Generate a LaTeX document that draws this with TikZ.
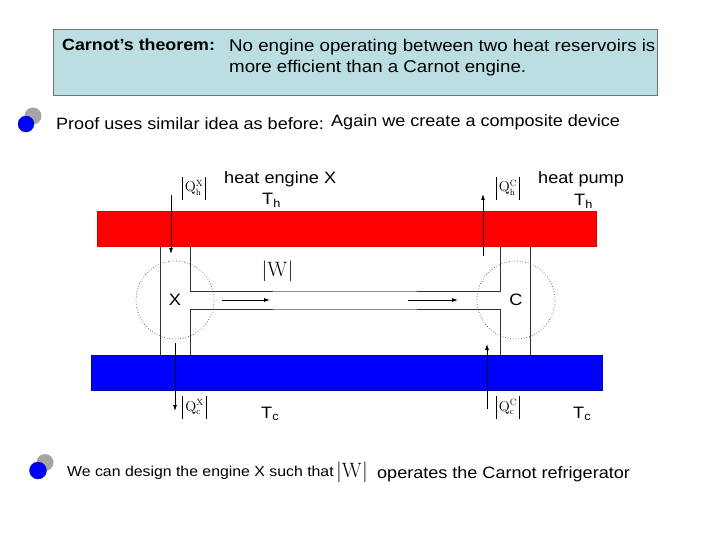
\documentclass[tikz,border=0pt]{standalone}
\usepackage[no-math]{fontspec}
\setmainfont{Liberation Sans}[FakeStretch=1.1]
\usetikzlibrary{arrows.meta}
\definecolor{boxcyan}{RGB}{186,222,226}
\definecolor{hotred}{RGB}{255,0,0}
\definecolor{coldblue}{RGB}{0,0,255}
\definecolor{bulletgray}{RGB}{165,165,165}
\newcommand\absbar{\rule[-8pt]{0.6pt}{23pt}}
\begin{document}
\begin{tikzpicture}[x=1pt,y=-1pt,
  txt/.style={inner sep=0pt,anchor=base west,font=\fontsize{16.4}{20}\selectfont},
  small/.style={inner sep=0pt,anchor=base west,font=\fontsize{14.4}{16}\selectfont},
  qlab/.style={inner sep=0pt,font=\fontsize{13.5}{16}\selectfont},
  wlab/.style={inner sep=0pt,font=\fontsize{20}{23}\selectfont},
  wall/.style={draw=black!80,line width=0.8pt},
  flow/.style={draw=black,line width=0.8pt,-{Latex[length=6pt,width=4pt]}},
  engine/.style={circle,draw=black!70,dotted,line width=0.7pt,minimum size=78pt,inner sep=0pt,font=\fontsize{16.5}{19}\selectfont},
  reservoir/.style={inner sep=0pt,anchor=north west,line width=0.5pt}]
\useasboundingbox (0,0) rectangle (720,540);
\fill[white] (0,0) rectangle (720,540);
% theorem box
\node[reservoir,draw=black!55,fill=boxcyan,minimum width=604pt,minimum height=66pt] (thm) at (53,29) {};
\node[txt,font=\bfseries\fontsize{16.2}{20}\selectfont] (thmtitle) at (62,51) {Carnot’s theorem:};
\node[inner sep=0pt,align=left,anchor=north west,font=\fontsize{17}{21.5}\selectfont] (thmbody) at (229,38.5) {No engine operating between two heat reservoirs is\\more efficient than a Carnot engine.};
% bullet 1
\fill[bulletgray] (33,116) circle (8.5pt);
\node[circle,fill=coldblue,draw=coldblue!60!black,line width=0.3pt,minimum size=16pt,inner sep=0pt] (b1) at (26,124) {};
\node[txt] (proof) at (56,130) {Proof uses similar idea as before:};
\node[txt] (again) at (331,127) {Again we create a composite device};
% reservoirs
\node[reservoir,draw=red!85!black,fill=hotred,minimum width=499pt,minimum height=35pt] (hot) at (97,211) {};
\node[reservoir,draw=blue!70!black,fill=coldblue,minimum width=511pt,minimum height=35pt] (cold) at (91,355) {};
% titles
\node[txt,font=\fontsize{16.5}{19}\selectfont] (hex) at (224,184) {heat engine X};
\node[txt,font=\fontsize{16.5}{19}\selectfont] (hp) at (538,184) {heat pump};
\node[txt,font=\fontsize{16.5}{19}\selectfont] (th1) at (262,205) {T\textsubscript{h}};
\node[txt,font=\fontsize{16.5}{19}\selectfont] (th2) at (574,206) {T\textsubscript{h}};
\node[txt,font=\fontsize{16.5}{19}\selectfont] (tc1) at (261,418) {T\textsubscript{c}};
\node[txt,font=\fontsize{16.5}{19}\selectfont] (tc2) at (573,418) {T\textsubscript{c}};
% engines
\node[engine] (X) at (175,300) {X};
\node[engine] (C) at (516,300) {C};
% engine walls
\coordinate (xa1) at (160,246); \coordinate (xa2) at (160,355);
\coordinate (xb1) at (190,246); \coordinate (xb2) at (190,291.5);
\coordinate (xc1) at (190,355); \coordinate (xc2) at (190,309);
\coordinate (ca1) at (530,246); \coordinate (ca2) at (530,355);
\coordinate (cb1) at (500,246); \coordinate (cb2) at (500,291.5);
\coordinate (cc1) at (500,355); \coordinate (cc2) at (500,309);
\coordinate (m1) at (273,291.5); \coordinate (m2) at (417,291.5);
\coordinate (m3) at (273,309); \coordinate (m4) at (417,309);
\draw[wall] (xa1) -- (xa2);
\draw[wall] (ca1) -- (ca2);
\draw[wall] (xb1) -- (xb2) -- (m1);
\draw[wall] (xc1) -- (xc2) -- (m3);
\draw[wall] (cb1) -- (cb2) -- (m2);
\draw[wall] (cc1) -- (cc2) -- (m4);
\draw[wall,draw=black!45] (m1) -- (m2);
\draw[wall,draw=black!45] (m3) -- (m4);
% work
\node[wlab] (W) at (277.5,271) {$\big|\mathrm{W}\big|$};
\coordinate (w1s) at (222,300); \coordinate (w1e) at (270,300);
\coordinate (w2s) at (408,300); \coordinate (w2e) at (458,300);
\draw[flow] (w1s) -- (w1e);
\draw[flow] (w2s) -- (w2e);
% heat flows
\coordinate (qhx1) at (171,195); \coordinate (qhx2) at (171,254);
\coordinate (qcx1) at (175,343); \coordinate (qcx2) at (175,411);
\coordinate (qhc1) at (483,256); \coordinate (qhc2) at (483,194);
\coordinate (qcc1) at (487,409); \coordinate (qcc2) at (487,344);
\draw[flow] (qhx1) -- (qhx2);
\draw[flow] (qcx1) -- (qcx2);
\draw[flow] (qhc1) -- (qhc2);
\draw[flow] (qcc1) -- (qcc2);
\node[qlab] (lqhx) at (194,188.5) {\absbar\,$\mathrm{Q}_{\mathrm{h}}^{\mathrm{X}}$\,\absbar};
\node[qlab] (lqcx) at (194.5,407.5) {\absbar\,$\mathrm{Q}_{\mathrm{c}}^{\mathrm{X}}$\,\absbar};
\node[qlab] (lqhc) at (508,188.5) {\absbar\,$\mathrm{Q}_{\mathrm{h}}^{\mathrm{C}}$\,\absbar};
\node[qlab] (lqcc) at (508,407.5) {\absbar\,$\mathrm{Q}_{\mathrm{c}}^{\mathrm{C}}$\,\absbar};
% bullet 2
\fill[bulletgray] (45,462.5) circle (8.5pt);
\node[circle,fill=coldblue,draw=coldblue!60!black,line width=0.3pt,minimum size=17pt,inner sep=0pt] (b2) at (38,470.5) {};
\node[small] (design) at (67,476) {We can design the engine X such that};
\node[wlab] (W2) at (352,472) {$\big|\mathrm{W}\big|$};
\node[txt] (operates) at (377,478) {operates the Carnot refrigerator};
\end{tikzpicture}
\end{document}
